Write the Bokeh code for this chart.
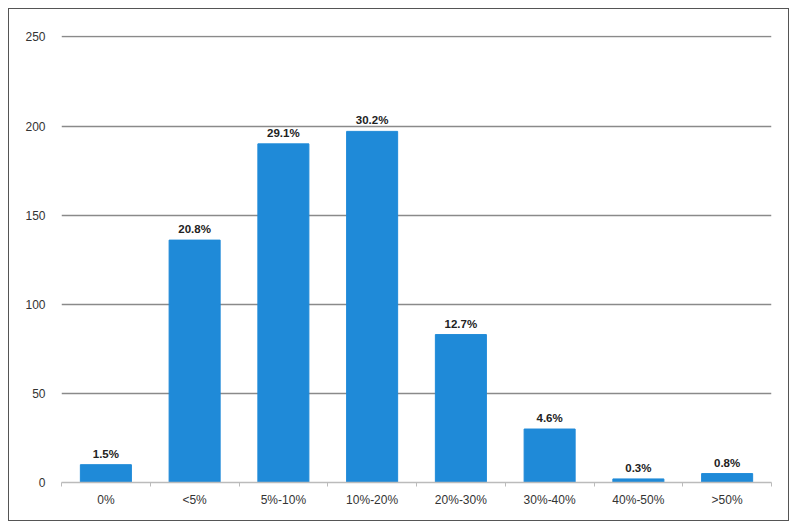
from bokeh.plotting import figure
from bokeh.models import ColumnDataSource, FixedTicker, Range1d
from bokeh.core.properties import value
from bokeh.embed import file_html
from bokeh.resources import INLINE

categories = ["0%", "<5%", "5%-10%", "10%-20%", "20%-30%", "30%-40%", "40%-50%", ">50%"]
counts = [10, 136, 190, 197, 83, 30, 2, 5]
percent_labels = ["1.5%", "20.8%", "29.1%", "30.2%", "12.7%", "4.6%", "0.3%", "0.8%"]
y_ticks = [0, 50, 100, 150, 200, 250]

xpos = [i + 0.5 for i in range(len(categories))]
src = ColumnDataSource(dict(x=xpos, top=counts, lab=percent_labels))

FONT = "Liberation Sans"

p = figure(width=781, height=513, output_backend="svg", toolbar_location=None,
           x_range=Range1d(0, len(categories)), y_range=Range1d(0, 250.8),
           min_border_left=52, min_border_right=19, min_border_top=26, min_border_bottom=40)
p.margin = (8, 0, 0, 8)
p.styles = {"border": "1px solid #555", "box-sizing": "border-box"}
p.outline_line_color = None
p.background_fill_color = "white"
p.border_fill_color = "white"

p.vbar(x="x", top="top", width=0.575, bottom=0, source=src, color="#1f8ad8")
p.text(x="x", y="top", text="lab", source=src, text_align="center", text_baseline="bottom",
       y_offset=-5, text_font=value(FONT), text_font_size="11.5px", text_font_style="bold",
       text_color="#222222")

# y axis
p.yaxis.ticker = FixedTicker(ticks=y_ticks)
p.yaxis.axis_line_color = None
p.yaxis.major_tick_line_color = None
p.yaxis.minor_tick_line_color = None
p.yaxis.major_label_standoff = 10
p.yaxis.major_label_text_font = FONT
p.yaxis.major_label_text_font_size = "12px"
p.yaxis.major_label_text_color = "#333333"

# x axis: labels at centers, ticks at boundaries
p.xaxis.ticker = FixedTicker(ticks=xpos, minor_ticks=list(range(len(categories) + 1)))
p.xaxis.major_label_overrides = {x: c for x, c in zip(xpos, categories)}
p.xaxis.major_tick_line_color = None
p.xaxis.major_tick_out = 0
p.xaxis.major_tick_in = 0
p.xaxis.minor_tick_line_color = "#bbbbbb"
p.xaxis.minor_tick_out = 4
p.xaxis.minor_tick_in = 0
p.xaxis.axis_line_color = "#bbbbbb"
p.xaxis.axis_line_width = 1.5
p.xaxis.major_label_standoff = 6
p.xaxis.major_label_text_font = FONT
p.xaxis.major_label_text_font_size = "12px"
p.xaxis.major_label_text_color = "#333333"

p.xgrid.grid_line_color = None
p.ygrid.ticker = FixedTicker(ticks=y_ticks[1:])
p.ygrid.grid_line_color = "#8a8a8a"
p.ygrid.grid_line_width = 1.5

open("out.html", "w").write(file_html(p, INLINE))
